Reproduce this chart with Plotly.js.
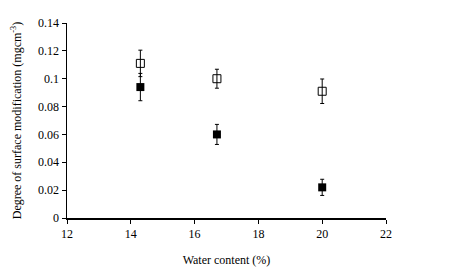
<!DOCTYPE html>
<html><head><meta charset="utf-8">
<script src="https://cdn.plot.ly/plotly-3.0.1.min.js"></script>
<style>html,body{margin:0;padding:0;background:#fff}#c{width:457px;height:271px}</style>
</head><body><div id="c"></div>
<script>
const waterContent = [14.3, 16.7, 20];
const openValues = [0.111, 0.100, 0.091];
const openErrors = [0.0095, 0.0068, 0.0088];
const filledValues = [0.094, 0.060, 0.022];
const filledErrors = [0.0098, 0.0072, 0.0058];
const xTicks = [12, 14, 16, 18, 20, 22];
const yTicks = [0, 0.02, 0.04, 0.06, 0.08, 0.1, 0.12, 0.14];
const yTickText = ['0', '0.02', '0.04', '0.06', '0.08', '0.1', '0.12', '0.14'];

const font = {family: '"Liberation Serif", "Times New Roman", serif', color: '#000', size: 12};
const traces = [
  {x: waterContent, y: openValues, type: 'scatter', mode: 'markers',
   marker: {symbol: 'square-open', size: 8, color: '#000', line: {width: 1, color: '#000'}},
   error_y: {type: 'data', array: openErrors, visible: true, color: '#000', thickness: 1, width: 2}},
  {x: waterContent, y: filledValues, type: 'scatter', mode: 'markers',
   marker: {symbol: 'square', size: 8, color: '#000'},
   error_y: {type: 'data', array: filledErrors, visible: true, color: '#000', thickness: 1, width: 2}}
];
const layout = {
  width: 457, height: 271, showlegend: false,
  paper_bgcolor: '#fff', plot_bgcolor: '#fff',
  margin: {l: 67, r: 71, t: 23, b: 53},
  font: font,
  xaxis: {range: [12, 22], tickvals: xTicks, ticktext: xTicks.map(String),
    showline: true, linecolor: '#000', linewidth: 1.5, showgrid: false, zeroline: false,
    ticks: 'outside', ticklen: 4, tickcolor: '#000', tickfont: font,
    title: {text: 'Water content (%)', font: font, standoff: 15}},
  yaxis: {range: [0, 0.14], tickvals: yTicks, ticktext: yTickText,
    showline: true, linecolor: '#000', linewidth: 1.5, showgrid: false, zeroline: false,
    ticks: 'outside', ticklen: 4, tickcolor: '#000', tickfont: font,
    title: {text: 'Degree of surface modification (mgcm<sup>-3</sup>)', font: font, standoff: 14}}
};
Plotly.newPlot('c', traces, layout, {displayModeBar: false, staticPlot: true});
</script></body></html>
